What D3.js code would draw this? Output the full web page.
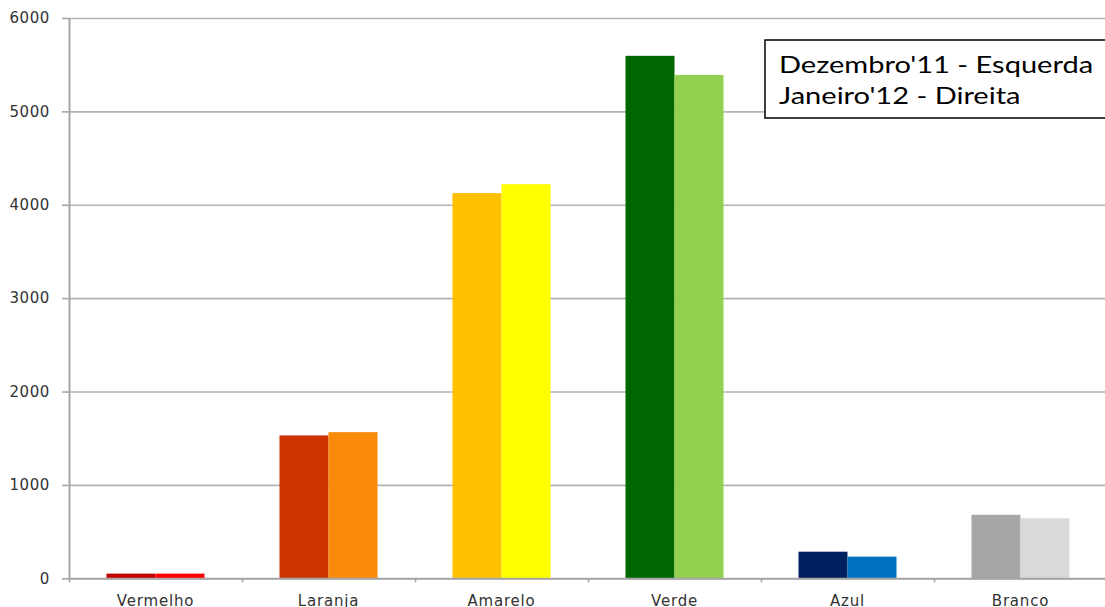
<!DOCTYPE html>
<html>
<head>
<meta charset="utf-8">
<script src="https://cdn.jsdelivr.net/npm/d3@7"></script>
<style>
  body { margin: 0; background: #fff; }
  svg { display: block; }
</style>
</head>
<body>
<script>
// valores
const categorias = ["Vermelho", "Laranja", "Amarelo", "Verde", "Azul", "Branco"];
const dezembro = [50, 1530, 4125, 5595, 285, 680];
const janeiro = [50, 1565, 4220, 5390, 232, 643];
const coresDez = ["#c00000", "#cc3300", "#ffc000", "#006600", "#002060", "#a6a6a6"];
const coresJan = ["#ff0000", "#fa8a0a", "#ffff00", "#92d050", "#0070c0", "#d9d9d9"];
const yTicks = [0, 1000, 2000, 3000, 4000, 5000, 6000];
const legenda = ["Dezembro'11 - Esquerda", "Janeiro'12 - Direita"];

var width = 1105, height = 607;
var margin = {left: 69, right: 1107, bottom: 578.3, top: 18};

const svg = d3.select("body")
    .append("svg")
    .attr("width", width)
    .attr("height", height);

var x = d3.scaleBand()
    .domain(categorias)
    .range([margin.left, margin.right]);

var x1 = d3.scaleBand()
    .domain(["dez", "jan"])
    .range([0, x.bandwidth()])
    .paddingInner(0)
    .paddingOuter(0.765);

var xb = d3.scaleLinear()
    .domain([0, categorias.length])
    .range([margin.left, margin.right]);

var y = d3.scaleLinear()
    .domain([0, 6000])
    .range([margin.bottom, margin.top]);

// gridlines
svg.append("g")
    .attr("transform", `translate(${margin.left},0)`)
    .call(d3.axisLeft(y).tickValues(yTicks).tickSize(-(width - margin.left)).tickFormat(""))
    .call(g => g.select(".domain").remove())
    .call(g => g.selectAll(".tick line").attr("stroke", "#b3b3b3").attr("stroke-width", 1.6));

// bars
var dados = categorias.map((c, i) => ({cat: c, dez: dezembro[i], jan: janeiro[i], i: i}));

svg.append("g").selectAll("rect")
    .data(dados)
    .join("rect")
    .attr("x", d => x(d.cat) + x1("dez"))
    .attr("width", x1.bandwidth())
    .attr("y", d => y(d.dez))
    .attr("height", d => y(0) - y(d.dez))
    .attr("fill", d => coresDez[d.i]);

svg.append("g").selectAll("rect")
    .data(dados)
    .join("rect")
    .attr("x", d => x(d.cat) + x1("jan"))
    .attr("width", x1.bandwidth())
    .attr("y", d => y(d.jan))
    .attr("height", d => y(0) - y(d.jan))
    .attr("fill", d => coresJan[d.i]);

// y-axis
svg.append("g")
    .attr("transform", `translate(${margin.left},0)`)
    .call(d3.axisLeft(y).tickValues(yTicks).tickFormat(d3.format("d"))
        .tickSizeInner(7).tickSizeOuter(0).tickPadding(12))
    .call(g => g.select(".domain").attr("stroke", "#a6a6a6").attr("stroke-width", 2))
    .call(g => g.selectAll(".tick line").attr("stroke", "#a6a6a6").attr("stroke-width", 1.6))
    .call(g => g.selectAll(".tick text")
        .attr("font-family", "DejaVu Sans")
        .attr("font-size", 15)
        .attr("letter-spacing", 0.6)
        .attr("fill", "#333"));

// x-axis: boundary ticks
svg.append("g")
    .attr("transform", `translate(0,${margin.bottom})`)
    .call(d3.axisBottom(xb).ticks(categorias.length).tickSizeInner(4).tickSizeOuter(0).tickFormat(""))
    .call(g => g.select(".domain").attr("stroke", "#a6a6a6").attr("stroke-width", 2))
    .call(g => g.selectAll(".tick line").attr("stroke", "#a6a6a6").attr("stroke-width", 1.6));

// x-axis: labels
svg.append("g")
    .attr("transform", `translate(0,${margin.bottom})`)
    .call(d3.axisBottom(x).tickSize(0).tickPadding(17))
    .call(g => g.select(".domain").remove())
    .call(g => g.selectAll(".tick text")
        .attr("font-family", "DejaVu Sans")
        .attr("font-size", 15)
        .attr("letter-spacing", 0.8)
        .attr("fill", "#333"));

// legend box
var leg = svg.append("g");
leg.append("rect")
    .attr("x", 765)
    .attr("y", 40)
    .attr("width", 360)
    .attr("height", 78)
    .attr("fill", "#fff")
    .attr("stroke", "#000")
    .attr("stroke-width", 1.5);

leg.append("g")
    .attr("transform", "translate(779,0) scale(1.21,1)")
    .selectAll("text")
    .data(legenda)
    .join("text")
    .attr("x", 0)
    .attr("y", (d, i) => 73 + i * 31)
    .attr("font-family", "Lato")
    .attr("font-size", 24)
    .attr("fill", "#000")
    .text(d => d);
</script>
</body>
</html>
